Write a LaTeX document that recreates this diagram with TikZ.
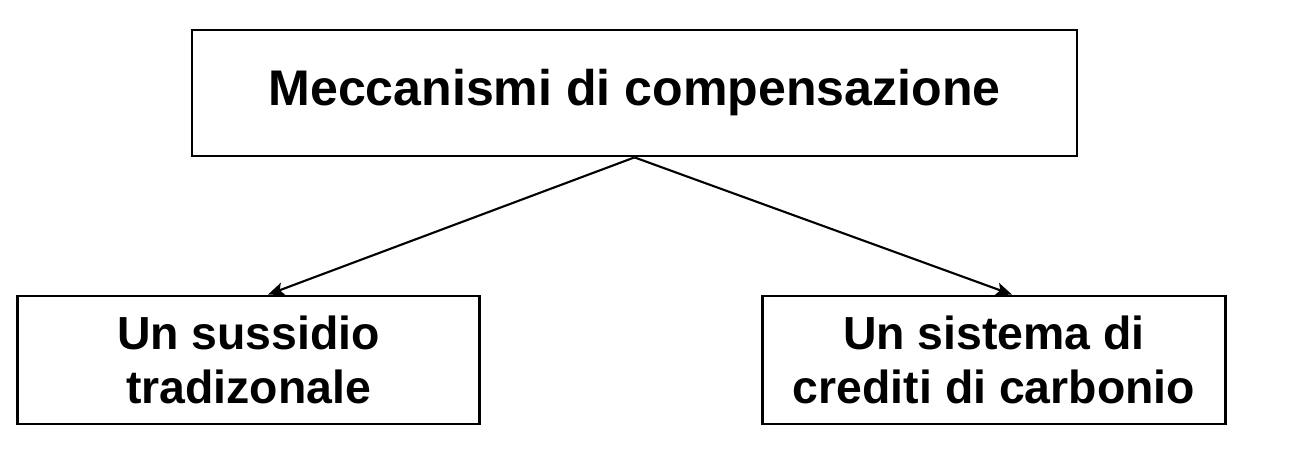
\documentclass[tikz,border=0pt]{standalone}
\usepackage{fontspec}
\setmainfont{Liberation Sans}
\usepackage{tikz}
\usetikzlibrary{arrows.meta,positioning}
\tikzset{
  ar/.style={-{Stealth[length=3.2mm,width=2.6mm,inset=0.7mm]},line width=1.2pt,black},
  topbox/.style={draw,line width=1.6pt,minimum width=17.7cm,minimum height=2.52cm,align=center,font=\bfseries\fontsize{28.5}{34}\selectfont},
  subbox/.style={draw,line width=1.6pt,minimum width=9.25cm,minimum height=2.56cm,align=center,font=\bfseries\fontsize{26.4}{30.5}\selectfont}
}
\begin{document}
\begin{tikzpicture}
\useasboundingbox (0,0) rectangle (26,9.36);
\node[topbox] (mech) at (12.69,7.5) {Meccanismi di compensazione};
\node[subbox] (subs) at (4.97,2.16) {Un sussidio\\tradizonale};
\node[subbox] (carb) at (19.88,2.16) {Un sistema di\\crediti di carbonio};
% frecce
\draw[ar] (mech.south) -- ([xshift=0.39cm]subs.north);
\draw[ar] (mech.south) -- ([xshift=0.36cm]carb.north);
\end{tikzpicture}
\end{document}
